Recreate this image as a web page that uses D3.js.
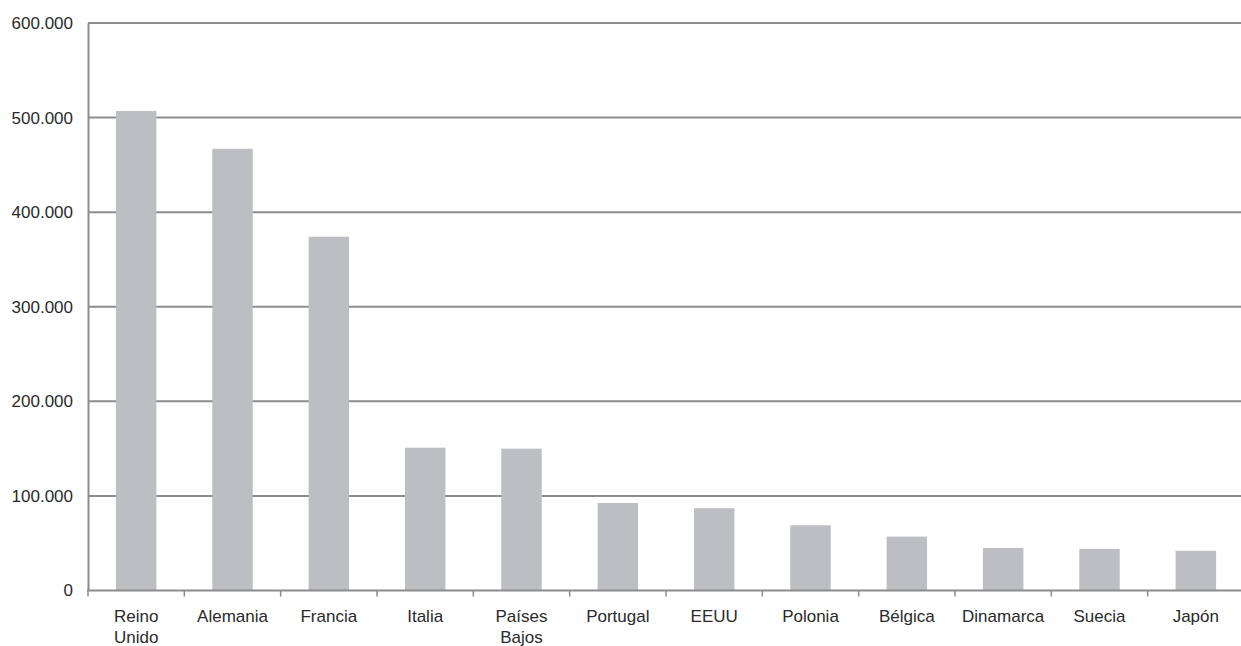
<!DOCTYPE html>
<html>
<head>
<meta charset="utf-8">
<script src="https://cdn.jsdelivr.net/npm/d3@7"></script>
<style>
  html, body { margin: 0; padding: 0; background: #fff; }
  svg { display: block; }
  text { font-family: "Liberation Sans", Arial, sans-serif; fill: #2a2a2a; }
</style>
</head>
<body>
<svg id="chart" width="1241" height="646"></svg>
<script>
const categories = [["Reino", "Unido"], ["Alemania"], ["Francia"], ["Italia"], ["Países", "Bajos"], ["Portugal"], ["EEUU"], ["Polonia"], ["Bélgica"], ["Dinamarca"], ["Suecia"], ["Japón"]];
const values = [507000, 467000, 374000, 151000, 150000, 92500, 87000, 69000, 57000, 45000, 44000, 42000];
const yTicks = [0, 100000, 200000, 300000, 400000, 500000, 600000];

(function () {
const svg = d3.select("#chart");
const pLeft = 88, pRight = 1244, pTop = 23, pBottom = 590.5;
const keys = categories.map(c => c.join(" "));

const x = d3.scaleBand().domain(keys).range([pLeft, pRight]).paddingInner(0.58).paddingOuter(0.29);
const y = d3.scaleLinear().domain([0, 600000]).range([pBottom, pTop]);
const fmt = v => d3.format(",")(v).replace(/,/g, ".");

// gridlines
svg.append("g").selectAll("line").data(yTicks.filter(d => d > 0)).join("line")
  .attr("x1", pLeft).attr("x2", 1241)
  .attr("y1", d => y(d)).attr("y2", d => y(d))
  .attr("stroke", "#8c8c8e").attr("stroke-width", 2);

// bars
svg.append("g").selectAll("rect").data(values).join("rect")
  .attr("x", (d, i) => x(keys[i]))
  .attr("width", x.bandwidth())
  .attr("y", d => y(d))
  .attr("height", d => y(0) - y(d))
  .attr("fill", "#bdbec1");

// y axis
const yAxis = d3.axisLeft(y).tickValues(yTicks).tickFormat(fmt).tickSize(0).tickPadding(15);
const gy = svg.append("g").attr("transform", `translate(${pLeft},0)`).call(yAxis);
gy.select(".domain").attr("stroke", "#8c8c8e").attr("stroke-width", 2);
gy.selectAll("text").attr("font-size", 17).style("font-family", "Liberation Sans, Arial, sans-serif").attr("fill", "#2a2a2a");

// x axis baseline
svg.append("line").attr("x1", pLeft - 1).attr("x2", 1241).attr("y1", pBottom).attr("y2", pBottom)
  .attr("stroke", "#8c8c8e").attr("stroke-width", 2);

// boundary ticks
const step = x.step();
const bounds = d3.range(0, keys.length + 1).map(i => pLeft + i * step);
svg.append("g").selectAll("line").data(bounds).join("line")
  .attr("x1", d => d).attr("x2", d => d)
  .attr("y1", pBottom).attr("y2", pBottom + 6)
  .attr("stroke", "#8c8c8e").attr("stroke-width", 1.5);

// category labels
const lab = svg.append("g").selectAll("text").data(categories).join("text")
  .attr("x", (d, i) => x(keys[i]) + x.bandwidth() / 2)
  .attr("y", 622)
  .attr("text-anchor", "middle")
  .attr("font-size", 17);
lab.selectAll("tspan").data(d => d).join("tspan")
  .attr("x", function() { return d3.select(this.parentNode).attr("x"); })
  .attr("dy", (d, i) => i === 0 ? 0 : 21)
  .text(d => d);
})();
</script>
</body>
</html>
